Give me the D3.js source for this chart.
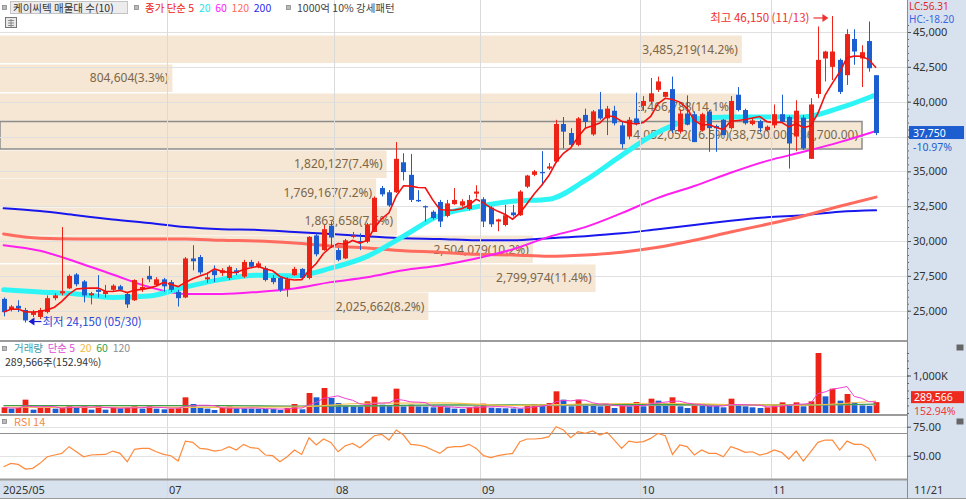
<!DOCTYPE html>
<html>
<head>
<meta charset="utf-8">
<script src="https://cdn.jsdelivr.net/npm/d3@7"></script>
<style>
  body { margin: 0; background: #fff; }
  svg { display: block; font-family: "Noto Sans CJK KR", "Noto Sans", sans-serif; }
</style>
</head>
<body>
<svg id="chart" width="966" height="499"></svg>
<script>
// trading days on the chart, month by month
var monthDays = [
  ["2025-05", [27, 28, 29, 30]],
  ["2025-06", [2, 4, 5, 9, 10, 11, 12, 13, 16, 17, 18, 19, 20, 23, 24, 25, 26, 27, 30]],
  ["2025-07", [1, 2, 3, 4, 7, 8, 9, 10, 11, 14, 15, 16, 17, 18, 21, 22, 23, 24, 25, 28, 29, 30, 31]],
  ["2025-08", [1, 4, 5, 6, 7, 8, 11, 12, 13, 14, 18, 19, 20, 21, 22, 25, 26, 27, 28, 29]],
  ["2025-09", [1, 2, 3, 4, 5, 8, 9, 10, 11, 12, 15, 16, 17, 18, 19, 22, 23, 24, 25, 26, 29, 30]],
  ["2025-10", [1, 2, 10, 13, 14, 15, 16, 17, 20, 21, 22, 23, 24, 27, 28, 29, 30, 31]],
  ["2025-11", [3, 4, 5, 6, 7, 10, 11, 12, 13, 14, 17, 18, 19, 20, 21]]
];

var open = [
  25850,25050,25350,25050,24700,24550,24900,25900,26250,26600,
  27600,27100,26100,26500,26200,26500,26750,26200,25750,26550,
  27500,26850,27250,27050,26350,25950,28750,28850,27250,27900,
  27700,27350,27900,27450,28500,28150,28050,27350,27350,26550,
  27550,28000,27350,30400,29350,31100,29350,28750,30300,30000,
  29950,30650,33800,33500,33500,35650,34750,32950,32500,32100,
  32800,31800,32650,32550,32300,33400,33000,32400,31400,31150,
  32050,31850,33900,34750,34950,35200,35700,38400,37750,36900,
  39050,37650,39450,38800,39350,38300,37500,38800,39700,40000,
  40850,40350,40900,37850,39150,39100,37950,39300,38250,38700,
  38100,40500,39400,38400,38600,37950,38300,39100,38900,37500,
  38850,35900,40550,43100,42500,43000,41900,44500,43100,44350,
  41900];
var high = [
  25950,25400,25750,25200,25050,25200,26100,26250,31000,27600,
  27700,27200,26350,27550,26850,26900,26850,26350,27250,27350,
  28200,27400,27350,27200,26500,28850,29700,29000,27750,28250,
  28050,28250,28050,28650,28650,28550,28200,27550,27400,27400,
  28150,28050,30350,30550,31150,31400,29500,30150,30650,30550,
  31300,33200,33950,33650,37100,36300,36250,33650,32550,32200,
  32950,32950,33800,33000,33300,34000,33150,32500,31600,32600,
  32600,33650,34750,35100,36450,35600,38700,38900,38100,38900,
  39500,39400,40700,39700,39700,38600,38900,40650,40400,41700,
  41800,40700,41800,39450,40450,39300,39200,39400,38350,38750,
  40400,41050,39500,38800,38700,38300,39800,40500,39000,40100,
  39050,40250,45400,43650,46150,43100,45200,45200,44050,45750,
  41900];
var low = [
  24600,24950,24900,24150,24550,24400,24800,25750,26100,26550,
  26750,25600,25450,25950,25950,26400,26400,25200,25700,26350,
  27050,26750,26350,26350,25300,25900,27900,27600,27000,27050,
  27500,27200,27550,27350,28050,28050,27100,26900,26350,26000,
  27500,27250,27250,28900,29300,29500,28550,28700,30200,29350,
  29850,30650,33200,32450,33450,34350,32800,32800,31400,31550,
  31000,31700,32600,32450,32200,33100,31000,31000,30700,31050,
  31750,31800,33800,34650,34000,35100,35600,36650,36800,36800,
  38100,37550,38700,37600,38300,36650,37300,38300,39350,39800,
  40700,40300,37750,37700,38300,37100,37850,36400,36400,37600,
  38000,39300,38350,38300,37800,37850,38100,38550,35200,36450,
  36550,35900,40250,41450,41550,40550,41200,42650,41050,42150,
  37600];
var close = [
  24900,25300,25150,24300,24900,25050,25900,26100,26400,27500,
  26900,26100,26250,26350,26400,26800,26500,25450,27200,26700,
  27250,27250,26750,26500,25900,28750,28550,27750,27400,27550,
  27900,28150,27700,28500,28150,28400,27200,27050,26500,27250,
  28000,27350,30300,29050,30850,30250,28650,30050,30400,29900,
  31200,33100,33350,32550,35900,34950,32950,32850,32450,31650,
  31400,32700,32950,32850,32950,33550,31400,31200,31550,31850,
  31850,33550,34700,35000,34900,35350,38400,37850,36900,38800,
  38550,39300,38800,39500,38450,36950,38700,38400,40050,40600,
  41450,40700,37950,39150,38350,37100,39100,38100,38100,37600,
  40050,39400,38450,38650,38100,38200,39100,38550,37000,39350,
  36650,39800,43000,43600,43600,40700,44850,43600,43550,42400,
  37750];

// volume, shares
var volume = [
  151000,116000,133000,356000,89000,133000,151000,116000,151000,196000,
  151000,196000,89000,196000,89000,133000,125000,140000,196000,116000,
  196000,116000,98000,116000,125000,418000,240000,133000,116000,80000,
  133000,178000,125000,120000,116000,112000,108000,105000,80000,133000,
  240000,98000,533000,418000,667000,400000,267000,190000,180000,175000,
  311000,436000,222000,215000,649000,178000,222000,178000,170000,151000,
  178000,151000,116000,110000,150000,178000,249000,140000,130000,125000,
  120000,115000,204000,240000,235000,267000,578000,356000,178000,356000,
  240000,235000,178000,204000,133000,204000,178000,293000,178000,382000,
  329000,267000,418000,178000,133000,204000,200000,196000,190000,151000,
  382000,204000,178000,151000,133000,151000,222000,284000,222000,284000,
  178000,311000,1600000,444000,649000,329000,507000,284000,204000,189333,
  289566];

var rsi = [
  40.5,43.4,42.5,38.5,39.1,43.4,49.1,50.6,52,57.8,
  53.4,49.1,50.6,50.9,51.1,54,52,44.8,55.5,56.3,
  56.3,53.4,51.1,50,45.4,62.6,61.5,56.3,55.7,54,
  54.9,57.8,54.9,59.8,56.9,56.3,50.6,50,44.8,49.1,
  54.9,51.1,65.5,59.2,64.4,61.5,53.4,58.6,60.6,56.9,
  62.1,67.2,68.4,63.5,72.1,67.8,59.8,59.2,57.8,54.9,
  52,56.9,57.8,57.8,59.8,56.3,50,48.3,50,51.1,
  52,62.1,64.4,64.4,65,66.4,75,72.1,65.5,70.7,
  69.3,71.3,67.8,70.1,63.5,56.3,62.6,61.5,62.1,64.9,
  69.3,67.2,51.1,59.2,57.8,50.6,54.9,52,52,49.1,
  57.8,55.7,52.9,53.4,50.6,52,54.9,52.9,47.1,54,
  45.4,53.4,61.5,63.5,63.5,54.9,62.6,59.8,59.8,56.3,
  45.4];

// long moving averages read every 5th trading day
var ma20 = [26500,26350,26200,25950,26050,26700,27250,27550,27500,28050,28900,30350,31850,
            32450,32850,33000,34350,36150,37800,38750,38900,38900,38900,39550,40500];
var ma60 = [29700,29300,28500,27600,26700,26200,26200,26350,26600,27050,27400,27900,28250,
            28750,29400,30300,31000,32000,33100,33950,34900,35750,36400,37100,37900];
var ma120 = [30500,30200,30150,30150,30150,30150,30050,30000,29850,29650,29500,29300,29200,
             29050,29000,28900,29000,29200,29550,30050,30650,31200,31800,32500,33150];
var ma200 = [32350,32150,31850,31550,31300,31000,30850,30800,30650,30500,30350,30200,30150,
             30050,30050,30200,30350,30550,30850,31150,31450,31700,31850,32100,32200];
// volume moving averages read every 10th trading day
var volMa20 = [160000,150000,150000,150000,160000,260000,270000,200000,240000,260000,225000,210000,320000];
var volMa60 = [200000,200000,200000,200000,180000,190000,215000,215000,220000,225000,225000,215000,240000];
var volMa120 = [195000,192000,190000,188000,185000,188000,190000,195000,200000,205000,210000,215000,225000];

// volume profile (매물대), 10 price bands
var profileVolume = [3485219, 804604, 3466788, 4052052, 1820127, 1769167, 1863658, 2504079, 2799974, 2025662];
var profilePct = [14.2, 3.3, 14.1, 16.5, 7.4, 7.2, 7.6, 10.2, 11.4, 8.2];
var profileHigh = [44900, 42850, 40800, 38750, 36700, 34650, 32600, 30550, 28500, 26450];
var profileLow = [42850, 40800, 38750, 36700, 34650, 32600, 30550, 28500, 26450, 24400];

var priceTicks = [25000, 27500, 30000, 32500, 35000, 37500, 40000, 42500, 45000];
var xLabelDates = ["2025-05-27", "2025-07-01", "2025-08-01", "2025-09-01", "2025-10-01", "2025-11-03"];
var xLabels = ["2025/05", "07", "08", "09", "10", "11"];

var RED = "#ec2316", BLUE = "#1c5dcf";
var plotR = 907;

var dates = monthDays.flatMap(function (m) {
  return m[1].map(function (d) { return m[0] + "-" + String(d).padStart(2, "0"); });
});
var n = dates.length;

var svg = d3.select("#chart");
var fmt = d3.format(",");

var x = d3.scalePoint().domain(dates).range([0, 879.7]).padding(0.5);
var step = x.step();
var yP = d3.scaleLinear().domain([25000, 45000]).range([310.7, 32]);
var yV = d3.scaleLinear().domain([0, 1000000]).range([413, 375.5]);
var yR = d3.scaleLinear().domain([50, 75]).range([455.7, 426.7]);

function rollingMean(arr, k) {
  return arr.map(function (v, i) { return d3.mean(arr.slice(Math.max(0, i - k + 1), i + 1)); });
}
var ma5 = rollingMean(close, 5);
var volMa5 = rollingMean(volume, 5);
var ix = function (i) { return x(dates[i]); };
var px = function (i) { return Math.round(ix(i)) + 0.5; };

// axis backgrounds
svg.append("rect").attr("x", plotR).attr("y", 0).attr("width", 966 - plotR).attr("height", 499).attr("fill", "#d8e2ee");
svg.append("rect").attr("x", 0).attr("y", 480).attr("width", plotR).attr("height", 19).attr("fill", "#d8e2ee");

svg.append("defs").append("clipPath").attr("id", "clipMain")
  .append("rect").attr("x", 0).attr("y", 0).attr("width", plotR).attr("height", 340);
var gMain = svg.append("g").attr("clip-path", "url(#clipMain)");

// volume profile boxes
var wP = d3.scaleLinear().domain([0, d3.max(profilePct)]).range([0, 862]);
var lastClose = close[n - 1];
var curBand = profileHigh.findIndex(function (h, i) { return lastClose < h && lastClose >= profileLow[i]; });
gMain.selectAll("rect.band").data(profilePct).join("rect")
  .attr("x", 0)
  .attr("y", function (d, i) { return Math.round(yP(profileHigh[i])) + 2.5; })
  .attr("width", function (d) { return wP(d); })
  .attr("height", function (d, i) { return Math.round(yP(profileLow[i]) - yP(profileHigh[i])) - 1.5; })
  .attr("fill", "#f6e7d4")
  .attr("stroke", function (d, i) { return i === curBand ? "#8c8c8c" : "none"; })
  .attr("stroke-width", 1.5);

// grid
gMain.selectAll("line.hgrid").data(priceTicks).join("line")
  .attr("x1", 0).attr("x2", plotR)
  .attr("y1", function (d) { return Math.round(yP(d)) + 0.5; })
  .attr("y2", function (d) { return Math.round(yP(d)) + 0.5; })
  .attr("stroke", "#e0e0e0");
svg.selectAll("line.vgrid").data(xLabelDates.slice(1)).join("line")
  .attr("x1", function (d) { return Math.round(x(d) - step / 2) + 0.5; })
  .attr("x2", function (d) { return Math.round(x(d) - step / 2) + 0.5; })
  .attr("y1", 0).attr("y2", 499)
  .attr("stroke", "#dadada");

// profile labels
gMain.selectAll("text.band").data(profilePct).join("text")
  .attr("x", function (d) { return wP(d) - 4; })
  .attr("y", function (d, i) { return (yP(profileHigh[i]) + yP(profileLow[i])) / 2 + 6; })
  .attr("text-anchor", "end")
  .attr("font-family", "Noto Sans")
  .attr("font-size", 12)
  .attr("fill", "#7b6649")
  .text(function (d, i) {
    var s = fmt(profileVolume[i]) + "(" + d.toFixed(1) + "%)";
    if (i === curBand) s += "(" + d3.format(",.2f")(profileHigh[i]) + " ~ " + d3.format(",.2f")(profileLow[i]) + ")";
    return s;
  });

// long moving averages
var maLine = d3.line()
  .x(function (d, i) { return ix(i * 5); })
  .y(function (d) { return yP(d); })
  .curve(d3.curveMonotoneX);
[[ma200, "#1717ee", 2], [ma120, "#ff6b5e", 3], [ma60, "#ff1ff0", 2], [ma20, "#2ef5f5", 5]].forEach(function (m) {
  gMain.append("path").attr("d", maLine(m[0])).attr("fill", "none")
    .attr("stroke", m[1]).attr("stroke-width", m[2]).attr("stroke-linecap", "round");
});

// candles
var colorOf = function (i) { return close[i] >= open[i] ? RED : BLUE; };
gMain.selectAll("line.wick").data(dates).join("line")
  .attr("x1", function (d, i) { return px(i); })
  .attr("x2", function (d, i) { return px(i); })
  .attr("y1", function (d, i) { return yP(high[i]); })
  .attr("y2", function (d, i) { return yP(low[i]); })
  .attr("stroke", function (d, i) { return colorOf(i); });
gMain.selectAll("rect.body").data(dates).join("rect")
  .attr("x", function (d, i) { return px(i) - 2.5; })
  .attr("width", 5)
  .attr("y", function (d, i) { return yP(Math.max(open[i], close[i])); })
  .attr("height", function (d, i) { return Math.max(1.2, Math.abs(yP(open[i]) - yP(close[i]))); })
  .attr("fill", function (d, i) { return colorOf(i); });

// MA5 on top
gMain.append("path")
  .attr("d", d3.line().x(function (d, i) { return ix(i); }).y(function (d) { return yP(d); })(ma5))
  .attr("fill", "none").attr("stroke", "#f21010").attr("stroke-width", 1.6);

// high / low annotations
var hiI = high.indexOf(d3.max(high)), loI = low.indexOf(d3.min(low));
var hiY = yP(high[hiI]) + 2;
gMain.append("text").attr("x", ix(hiI) - 23).attr("y", hiY + 4).attr("text-anchor", "end")
  .attr("font-size", 11.5).attr("fill", "#f03030")
  .text("최고 " + fmt(high[hiI]) + " (" + dates[hiI].slice(5).replace("-", "/") + ")");
gMain.append("line").attr("x1", ix(hiI) - 19).attr("x2", ix(hiI) - 7).attr("y1", hiY).attr("y2", hiY)
  .attr("stroke", "#f03030").attr("stroke-width", 1.2);
gMain.append("path").attr("d", "M" + (ix(hiI) - 4) + "," + hiY + "l-6,-4v8z").attr("fill", "#f03030");

var loY = yP(low[loI]) - 1;
gMain.append("path").attr("d", "M" + (ix(loI) + 3) + "," + loY + "l6,-4v8z").attr("fill", "#1a1ad0");
gMain.append("line").attr("x1", ix(loI) + 7).attr("x2", ix(loI) + 16).attr("y1", loY).attr("y2", loY)
  .attr("stroke", "#1a1ad0").attr("stroke-width", 1.2);
gMain.append("text").attr("x", ix(loI) + 17).attr("y", loY + 4)
  .attr("font-size", 11.5).attr("fill", "#2a46d8")
  .text("최저 " + fmt(low[loI]) + " (" + dates[loI].slice(5).replace("-", "/") + ")");

// top legend
function icon(xx, yy) {
  svg.append("rect").attr("x", xx + 0.5).attr("y", yy + 0.5).attr("width", 4).attr("height", 4)
    .attr("fill", "#bbb").attr("stroke", "#888").attr("stroke-width", 0.8);
}
icon(2, 5);
svg.append("rect").attr("x", 10.5).attr("y", 1.5).attr("width", 117).attr("height", 12)
  .attr("fill", "#ececec").attr("stroke", "#c4c4c4");
svg.append("text").attr("x", 13).attr("y", 12).attr("font-size", 10.5).attr("fill", "#333").text("케이씨텍 매물대 수(10)");
icon(134, 5);
var lg = svg.append("text").attr("x", 145).attr("y", 12).attr("font-size", 10.5);
[["종가 단순 5", RED], [" 20", "#22e6e6"], [" 60", "#ff20ff"], [" 120", "#ff6b5e"], [" 200", "#2a2af0"]].forEach(function (p) {
  lg.append("tspan").attr("fill", p[1]).attr("xml:space", "preserve").text(p[0] + " ");
});
icon(286, 5);
svg.append("text").attr("x", 297).attr("y", 12).attr("font-size", 10.5).attr("fill", "#444").text("1000억 10% 강세패턴");
svg.append("rect").attr("x", 5.5).attr("y", 17.5).attr("width", 11).attr("height", 10).attr("fill", "#e8e8e8").attr("stroke", "#777");
svg.append("path").attr("d", "M8,20.5h6M8,23h6M8,25.5h6M11,19v8").attr("stroke", "#777").attr("stroke-width", 0.8);

// price axis (the tag of the last price covers the tick label beneath it)
var cy = yP(lastClose);
var gAx = svg.append("g").attr("transform", "translate(" + plotR + ",0)");
gAx.append("g").call(d3.axisRight(yP).tickValues(d3.range(24500, 45600, 500)).tickSize(2).tickFormat(""))
  .call(function (g) { g.select(".domain").remove(); g.selectAll("line").attr("stroke", "#666"); });
gAx.append("g").call(d3.axisRight(yP).tickValues(priceTicks).tickSize(4).tickPadding(2).tickFormat(fmt))
  .call(function (g) {
    g.select(".domain").remove();
    g.selectAll("line").attr("stroke", "#555");
    g.selectAll("text").attr("font-size", 11).attr("fill", "#333").attr("font-family", "Noto Sans")
      .style("display", function (d) { return Math.abs(yP(d) - cy) < 22 ? "none" : null; });
  });
svg.append("text").attr("x", 909).attr("y", 9.5).attr("font-size", 10).attr("font-family", "Noto Sans").attr("fill", "#e02a2a")
  .text("LC:" + ((lastClose - d3.min(low)) / d3.min(low) * 100).toFixed(2));
svg.append("text").attr("x", 909).attr("y", 22.5).attr("font-size", 10).attr("font-family", "Noto Sans").attr("fill", "#3a66e0")
  .text("HC:" + ((lastClose - d3.max(high)) / d3.max(high) * 100).toFixed(2));
svg.append("rect").attr("x", 909).attr("y", cy - 7).attr("width", 55).attr("height", 13).attr("fill", BLUE);
svg.append("text").attr("x", 913).attr("y", cy + 3.5).attr("font-size", 10.5).attr("font-family", "Noto Sans").attr("fill", "#fff").text(fmt(lastClose));
svg.append("text").attr("x", 913).attr("y", cy + 18).attr("font-size", 10.5).attr("font-family", "Noto Sans").attr("fill", BLUE)
  .text(((lastClose - close[n - 2]) / close[n - 2] * 100).toFixed(2) + "%");

// panel separators
svg.append("line").attr("x1", 0).attr("x2", plotR).attr("y1", 341).attr("y2", 341).attr("stroke", "#9b9b9b").attr("stroke-width", 2);
svg.append("line").attr("x1", 0).attr("x2", plotR).attr("y1", 415).attr("y2", 415).attr("stroke", "#9b9b9b").attr("stroke-width", 2);
svg.append("line").attr("x1", 0).attr("x2", plotR).attr("y1", 479.5).attr("y2", 479.5).attr("stroke", "#9b9b9b").attr("stroke-width", 2);
svg.append("line").attr("x1", 0).attr("x2", 966).attr("y1", 498.5).attr("y2", 498.5).attr("stroke", "#9b9b9b");
svg.append("line").attr("x1", plotR + 0.5).attr("x2", plotR + 0.5).attr("y1", 0).attr("y2", 499).attr("stroke", "#8c8c8c");

// volume panel
svg.append("line").attr("x1", 0).attr("x2", plotR).attr("y1", Math.round(yV(1000000)) + 0.5).attr("y2", Math.round(yV(1000000)) + 0.5).attr("stroke", "#e0e0e0");
var volColor = function (i) { return i === 0 || volume[i] > volume[i - 1] ? RED : BLUE; };
svg.selectAll("rect.vol").data(dates).join("rect")
  .attr("x", function (d, i) { return px(i) - 2.9; })
  .attr("width", 5.8)
  .attr("y", function (d, i) { return yV(volume[i]); })
  .attr("height", function (d, i) { return yV(0) - yV(volume[i]); })
  .attr("fill", function (d, i) { return volColor(i); });
var vLine = function (k) {
  return d3.line().x(function (d, i) { return ix(i * k); }).y(function (d) { return yV(d); }).curve(d3.curveMonotoneX);
};
svg.append("path").attr("d", vLine(10)(volMa120)).attr("fill", "none").attr("stroke", "#a8a8a8").attr("stroke-width", 1.2);
svg.append("path").attr("d", vLine(10)(volMa60)).attr("fill", "none").attr("stroke", "#3aa04a").attr("stroke-width", 1.2);
svg.append("path").attr("d", vLine(10)(volMa20)).attr("fill", "none").attr("stroke", "#f3c04a").attr("stroke-width", 1.2);
svg.append("path").attr("d", vLine(1).curve(d3.curveLinear)(volMa5)).attr("fill", "none").attr("stroke", "#f040d0").attr("stroke-width", 1);

icon(2, 346);
var vl = svg.append("text").attr("x", 14).attr("y", 352).attr("font-size", 10.5);
[["거래량", "#3c9aa6"], [" 단순 5", "#e24ad2"], [" 20", "#f2b93c"], [" 60", "#3aa04a"], [" 120", "#8e8e8e"]].forEach(function (p) {
  vl.append("tspan").attr("fill", p[1]).attr("xml:space", "preserve").text(p[0] + " ");
});
var lastVol = volume[n - 1];
svg.append("text").attr("x", 5).attr("y", 366).attr("font-size", 10.5).attr("fill", "#333")
  .text(fmt(lastVol) + "주(" + (lastVol / volume[n - 2] * 100).toFixed(2) + "%)");

var gVax = svg.append("g").attr("transform", "translate(" + plotR + ",0)");
gVax.append("g").call(d3.axisRight(yV).tickValues(d3.range(0, 1700001, 200000)).tickSize(2).tickFormat(""))
  .call(function (g) { g.select(".domain").remove(); g.selectAll("line").attr("stroke", "#666"); });
gVax.append("g").call(d3.axisRight(yV).tickValues([1000000]).tickSize(4).tickPadding(2).tickFormat(function (d) { return fmt(d / 1000) + "K"; }))
  .call(function (g) {
    g.select(".domain").remove();
    g.selectAll("line").attr("stroke", "#555");
    g.selectAll("text").attr("font-size", 11).attr("fill", "#333").attr("font-family", "Noto Sans");
  });
var vy = yV(lastVol);
svg.append("rect").attr("x", 911).attr("y", vy - 11).attr("width", 53).attr("height", 12).attr("fill", "#ee2a1e");
svg.append("text").attr("x", 914).attr("y", vy - 1.5).attr("font-size", 10.5).attr("font-family", "Noto Sans").attr("fill", "#fff").text(fmt(lastVol));
svg.append("text").attr("x", 914).attr("y", vy + 12.5).attr("font-size", 10.5).attr("font-family", "Noto Sans").attr("fill", "#ee3a3a")
  .text((lastVol / volume[n - 2] * 100).toFixed(2) + "%");
svg.append("rect").attr("x", 956.5).attr("y", 344.5).attr("width", 7).attr("height", 6).attr("fill", "#666");

// RSI panel
[75, 50].forEach(function (v) {
  svg.append("line").attr("x1", 0).attr("x2", plotR).attr("y1", Math.round(yR(v)) + 0.5).attr("y2", Math.round(yR(v)) + 0.5).attr("stroke", "#e2e2e2");
});
svg.append("line").attr("x1", 0).attr("x2", plotR).attr("y1", Math.round(yR(70)) + 0.5).attr("y2", Math.round(yR(70)) + 0.5).attr("stroke", "#8f8f8f").attr("stroke-width", 1.2);
svg.append("path")
  .attr("d", d3.line().x(function (d, i) { return ix(i); }).y(function (d) { return yR(d); })(rsi))
  .attr("fill", "none").attr("stroke", "#ff8a3c").attr("stroke-width", 1.2);
icon(2, 419);
svg.append("text").attr("x", 14).attr("y", 426).attr("font-size", 11).attr("fill", "#f58a40").text("RSI 14");
var gRax = svg.append("g").attr("transform", "translate(" + plotR + ",0)");
gRax.append("g").call(d3.axisRight(yR).tickValues([75, 50]).tickSize(4).tickPadding(2).tickFormat(d3.format(".2f")))
  .call(function (g) {
    g.select(".domain").remove();
    g.selectAll("line").attr("stroke", "#555");
    g.selectAll("text").attr("font-size", 11).attr("fill", "#333").attr("font-family", "Noto Sans");
  });
svg.append("rect").attr("x", 956.5).attr("y", 418.5).attr("width", 7).attr("height", 6).attr("fill", "#666");

// date axis
svg.selectAll("text.xlab").data(xLabelDates).join("text")
  .attr("x", function (d, i) { return i === 0 ? 3 : Math.round(x(d) - step / 2) + 2; })
  .attr("y", 494)
  .attr("font-size", 11).attr("font-family", "Noto Sans").attr("fill", "#333")
  .text(function (d, i) { return xLabels[i]; });
svg.append("text").attr("x", 914).attr("y", 494).attr("font-size", 11).attr("font-family", "Noto Sans").attr("fill", "#333")
  .text(dates[n - 1].slice(5).replace("-", "/"));
</script>
</body>
</html>
